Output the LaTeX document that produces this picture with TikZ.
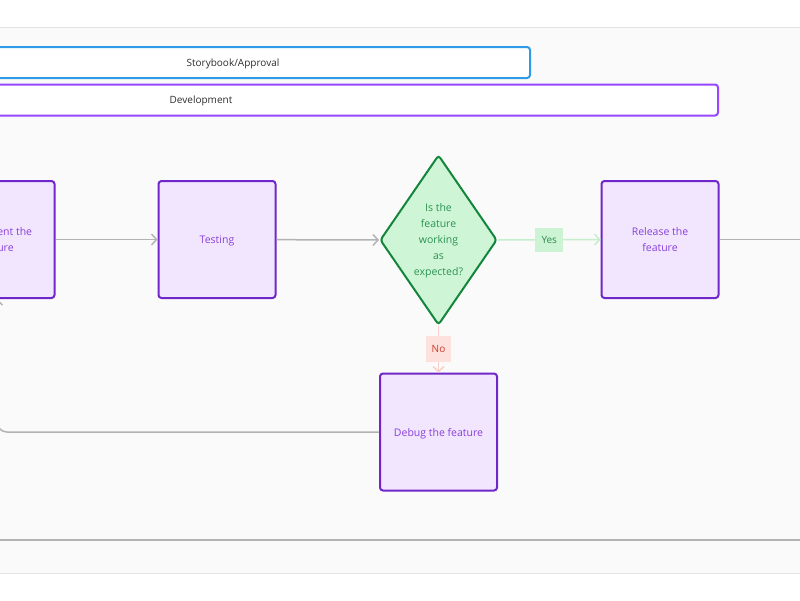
\documentclass[tikz,border=0pt]{standalone}
\usepackage{fontspec}
\setmainfont{Open Sans}
\usetikzlibrary{arrows.meta,shapes.geometric}
\definecolor{procborder}{HTML}{7027C9}
\definecolor{procfill}{HTML}{F2E6FF}
\definecolor{proctext}{HTML}{8840D6}
\definecolor{devborder}{HTML}{9747FF}
\definecolor{sbborder}{HTML}{2F9BE8}
\definecolor{lanetext}{HTML}{2E2E2E}
\definecolor{decborder}{HTML}{14863C}
\definecolor{decfill}{HTML}{CFF5D7}
\definecolor{dectext}{HTML}{2A9450}
\definecolor{yesfill}{HTML}{CCF3D4}
\definecolor{yestext}{HTML}{2B8C4C}
\definecolor{yesline}{HTML}{C5EFCC}
\definecolor{nofill}{HTML}{FDE1DD}
\definecolor{notext}{HTML}{D13A2B}
\definecolor{noline}{HTML}{F9CFC9}
\definecolor{conngray}{HTML}{B3B3B3}
\definecolor{panelbg}{HTML}{FAFAFA}
\definecolor{panelline}{HTML}{E3E3E3}
\begin{document}
\begin{tikzpicture}[x=1pt,y=-1pt,
  proc/.style={draw=procborder, fill=procfill, line width=2pt, rounded corners=3pt,
    minimum width=117pt, minimum height=117pt, inner sep=0pt, text=proctext, text depth=0pt,
    font=\fontsize{10.5}{16}\selectfont, align=center},
  lane/.style={fill=white, line width=2pt, rounded corners=3pt, minimum height=31pt,
    inner sep=0pt, text depth=0pt, font=\fontsize{10}{12}\selectfont, text=lanetext},
  conn/.style={draw=conngray, line width=1.5pt, -{Straight Barb[length=5pt,width=11pt]}},
  decision/.style={diamond, draw=decborder, fill=decfill, line width=2pt, rounded corners=3pt,
    minimum width=117pt, minimum height=170pt, inner sep=0pt},
  dectxt/.style={text=dectext, text depth=0pt, font=\fontsize{10.5}{16}\selectfont, align=center},
  yeslabel/.style={fill=yesfill, text=yestext, font=\fontsize{10}{12}\selectfont,
    minimum width=28pt, minimum height=24pt, inner sep=0pt},
  nolabel/.style={fill=nofill, text=notext, font=\fontsize{10}{12}\selectfont,
    minimum width=25pt, minimum height=26pt, inner sep=0pt}
]
\useasboundingbox (0,0) rectangle (800,600);
\clip (0,0) rectangle (800,600);
\fill[white] (0,0) rectangle (800,600);
\fill[panelbg] (0,27) rectangle (800,573);
\draw[panelline, line width=1pt] (0,27) -- (800,27);
\draw[panelline, line width=1pt] (0,573) -- (800,573);

% lanes
\node[lane, draw=sbborder, minimum width=594pt] (sb) at (233,62.5) {Storybook/Approval};
\node[lane, draw=devborder, minimum width=1034pt] (dev) at (201,100) {Development};

% process nodes
\node[proc] (impl) at (-4,239.5) {Implement the\\feature};
\node[proc] (test) at (217,239.5) {Testing};
\node[decision] (dec) at (438.5,240) {};
\node[dectxt] (dect) at (438.5,240) {Is the\\feature\\working\\as\\expected?};
\node[proc] (rel) at (660,239.5) {Release the\\feature};
\node[proc] (dbg) at (438.5,432) {Debug the feature};

\coordinate (relout) at (800,239.5);
\coordinate (bl) at (0,540);
\coordinate (br) at (800,540);

% connectors
\draw[conn] (impl) -- (test);
\draw[conn] (test) -- (dec.west);
\draw[conn, draw=yesline] (dec.east) -- node[yeslabel] (yes) {Yes} (rel.west);
\draw[conn, draw=noline] (dec.south) -- node[nolabel] (no) {No} (dbg.north);
\draw[draw=conngray, line width=1.5pt] (rel.east) -- (relout);
\draw[conn, rounded corners=10pt] (dbg.west) -| ([xshift=1pt]impl.south);
\draw[draw=conngray, line width=1.5pt] (bl) -- (br);
\end{tikzpicture}
\end{document}
